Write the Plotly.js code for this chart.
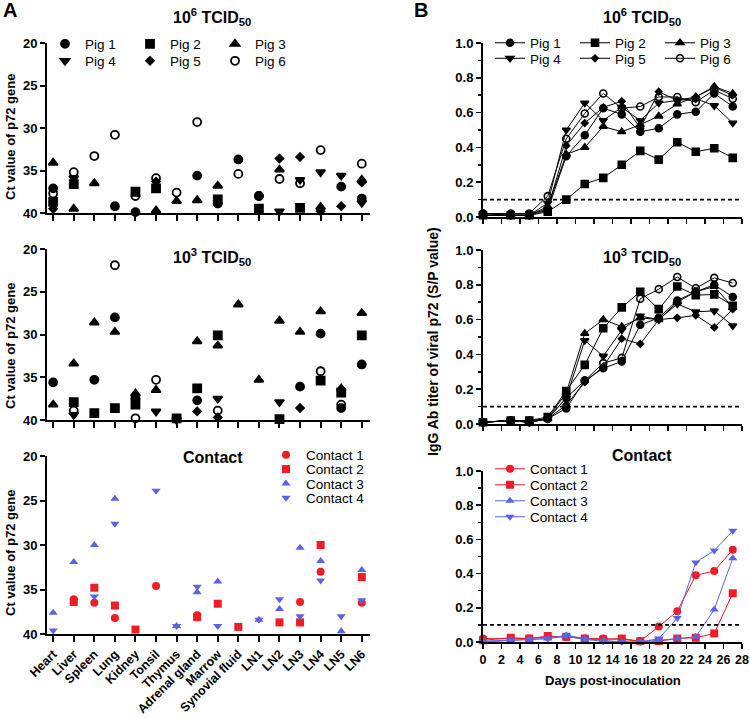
<!DOCTYPE html>
<html>
<head>
<meta charset="utf-8">
<script src="https://cdn.plot.ly/plotly-3.0.1.min.js"></script>
<style>
  body { margin: 0; background: #fff; }
  #plot { width: 750px; height: 718px; }
</style>
</head>
<body>
<div id="plot"></div>
<script>
// ---- data ----
var organs = ["Heart", "Liver", "Spleen", "Lung", "Kidney", "Tonsil", "Thymus", "Adrenal gland",
  "Marrow", "Synovial fluid", "LN1", "LN2", "LN3", "LN4", "LN5", "LN6"];

var pigNames = ["Pig 1", "Pig 2", "Pig 3", "Pig 4", "Pig 5", "Pig 6"];
var contactNames = ["Contact 1", "Contact 2", "Contact 3", "Contact 4"];

// Ct values, 10^6 TCID50 group
var ctHigh1 = [37.1, null, null, 39.2, 39.9, null, null, 35.6, 38.9, 33.7, 38.0, null, null, null, 36.9, 38.3];
var ctHigh2 = [38.7, 36.6, null, null, 37.5, 37.1, null, null, 38.4, null, 39.5, null, 39.4, null, null, null];
var ctHigh3 = [34.1, 39.5, 36.5, null, null, 39.7, 38.6, 38.5, 36.8, null, null, 34.9, null, 39.3, null, 36.1];
var ctHigh4 = [null, 35.9, null, null, null, null, null, null, null, null, null, 39.8, 36.1, 35.2, 35.6, 38.8];
var ctHigh5 = [39.5, null, null, null, null, 36.3, null, null, null, null, null, 33.6, 33.4, 39.8, 39.2, 36.4];
var ctHigh6 = [37.7, 35.2, 33.3, 30.8, 38.0, 35.9, 37.6, 29.3, null, 35.4, 38.0, 36.0, 36.5, 32.6, null, 34.2];

// Ct values, 10^3 TCID50 group
var ctLow1 = [35.6, null, 35.3, 28.0, null, null, null, 37.7, null, null, null, null, 36.1, 29.9, 38.6, 33.5];
var ctLow2 = [null, 37.9, 39.2, 38.6, 38.2, null, 39.8, 36.3, 30.1, null, null, 39.9, null, 35.4, 36.8, 30.1];
var ctLow3 = [38.2, 33.4, 28.6, 29.7, 36.9, 36.5, null, 30.8, 31.3, 26.5, 35.3, 28.4, 29.7, 27.3, 36.3, 27.5];
var ctLow4 = [null, 39.4, null, null, 37.7, 39.0, 40.0, null, 37.5, null, null, 37.9, null, null, null, null];
var ctLow5 = [null, null, null, null, 37.3, null, null, 39.0, 39.7, null, null, null, 38.6, null, null, null];
var ctLow6 = [null, 38.9, null, 21.9, 39.8, 35.3, null, null, 38.9, null, null, null, null, 34.3, 38.2, null];

// Ct values, contact pigs
var ctCon1 = [null, 36.1, 36.5, 38.2, null, 34.6, null, 37.9, null, null, null, null, 36.4, 33.0, null, 36.5];
var ctCon2 = [null, 36.4, 34.8, 36.8, 39.5, null, null, 38.1, 36.6, 39.2, null, 38.7, 38.7, 30.0, null, 33.6];
var ctCon3 = [37.6, 31.9, 30.0, 24.8, null, null, 39.1, 35.3, 34.1, null, 38.4, 37.2, 30.3, 31.8, 39.7, 32.8];
var ctCon4 = [39.6, null, 35.8, 27.6, null, 23.9, 39.1, 34.7, 39.1, null, 38.4, 36.1, 38.0, 34.0, 38.0, 36.2];

// IgG S/P values
var days = [0, 3, 5, 7, 9, 11, 13, 15, 17, 19, 21, 23, 25, 27];

var spHigh1 = [0.02, 0.01, 0.01, 0.04, 0.35, 0.47, 0.625, 0.59, 0.49, 0.51, 0.59, 0.605, 0.71, 0.635];
var spHigh2 = [0.01, 0.01, 0.01, 0.03, 0.10, 0.19, 0.225, 0.30, 0.38, 0.33, 0.43, 0.375, 0.395, 0.34];
var spHigh3 = [0.01, 0.01, 0.01, 0.06, 0.36, 0.40, 0.52, 0.49, 0.53, 0.58, 0.65, 0.69, 0.75, 0.71];
var spHigh4 = [0.01, 0.01, 0.01, 0.08, 0.50, 0.655, 0.555, 0.63, 0.555, 0.655, 0.67, 0.68, 0.64, 0.54];
var spHigh5 = [0.01, 0.01, 0.01, 0.05, 0.41, 0.54, 0.63, 0.665, 0.51, 0.72, 0.67, 0.69, 0.745, 0.70];
var spHigh6 = [0.02, 0.02, 0.02, 0.12, 0.45, 0.595, 0.71, 0.625, 0.635, 0.69, 0.69, 0.66, 0.73, 0.68];

var spLow1 = [0.01, 0.02, 0.01, 0.03, 0.09, 0.25, 0.32, 0.36, 0.57, 0.61, 0.71, 0.76, 0.80, 0.73];
var spLow2 = [0.01, 0.02, 0.02, 0.04, 0.19, 0.34, 0.55, 0.67, 0.76, 0.66, 0.79, 0.74, 0.745, 0.68];
var spLow3 = [0.01, 0.02, 0.01, 0.03, 0.18, 0.52, 0.60, 0.56, 0.61, 0.60, 0.70, 0.76, 0.79, 0.67];
var spLow4 = [0.01, 0.02, 0.01, 0.03, 0.15, 0.48, 0.39, 0.54, 0.62, 0.60, 0.69, 0.645, 0.65, 0.565];
var spLow5 = [0.01, 0.02, 0.01, 0.03, 0.11, 0.24, 0.33, 0.49, 0.46, 0.60, 0.61, 0.625, 0.555, 0.66];
var spLow6 = [0.01, 0.02, 0.02, 0.03, 0.15, 0.25, 0.35, 0.38, 0.72, 0.775, 0.845, 0.78, 0.84, 0.81];

var spCon1 = [0.02, 0.02, 0.02, 0.03, 0.03, 0.02, 0.02, 0.015, 0.005, 0.09, 0.18, 0.39, 0.415, 0.54];
var spCon2 = [0.01, 0.025, 0.02, 0.035, 0.03, 0.02, 0.015, 0.02, 0.005, 0.005, 0.02, 0.025, 0.05, 0.285];
var spCon3 = [0.005, 0.01, 0.015, 0.02, 0.04, 0.02, 0.01, 0.0, 0.0, 0.01, 0.02, 0.03, 0.19, 0.49];
var spCon4 = [0.0, 0.01, 0.015, 0.02, 0.035, 0.015, 0.005, 0.0, 0.0, 0.02, 0.14, 0.465, 0.535, 0.65];

var cutoff = 0.1;

// ---- styling ----
var W = 750, H = 718;
var FONT = "Liberation Sans, Arial, sans-serif";
var RED = "#ee1c24", BLUE = "#5b62e4";

var pigSymbols = ["circle", "square", "triangle-up", "triangle-down", "diamond", "circle-open"];
var pigSizes = [8, 8, 8, 8, 6, 8];
var conSymbols = ["circle", "square", "triangle-up", "triangle-down"];
var conColors = [RED, RED, BLUE, BLUE];

var ctHigh = [ctHigh1, ctHigh2, ctHigh3, ctHigh4, ctHigh5, ctHigh6];
var ctLow = [ctLow1, ctLow2, ctLow3, ctLow4, ctLow5, ctLow6];
var ctCon = [ctCon1, ctCon2, ctCon3, ctCon4];
var spHigh = [spHigh1, spHigh2, spHigh3, spHigh4, spHigh5, spHigh6];
var spLow = [spLow1, spLow2, spLow3, spLow4, spLow5, spLow6];
var spCon = [spCon1, spCon2, spCon3, spCon4];

var data = [];
var layout = {
  width: W, height: H,
  margin: {l: 0, r: 0, t: 0, b: 0},
  paper_bgcolor: "white", plot_bgcolor: "white",
  font: {family: FONT, color: "black", size: 12},
  annotations: [], shapes: []
};

// one small legend per entry so the grid matches the figure
var legendCount = 0;
function addLegend(symX, rowY) {
  legendCount++;
  var id = legendCount === 1 ? "legend" : "legend" + legendCount;
  layout[id] = {
    x: (symX - 20) / W, xanchor: "left",
    y: 1 - rowY / H, yanchor: "middle",
    bgcolor: "rgba(0,0,0,0)", borderwidth: 0,
    itemwidth: 30, font: {size: 13.5, family: FONT},
    itemclick: false
  };
  return id;
}

// left column: Ct values
var leftPanels = [
  {xa: "x", ya: "y", sets: ctHigh, names: pigNames},
  {xa: "x2", ya: "y2", sets: ctLow, names: pigNames},
  {xa: "x3", ya: "y3", sets: ctCon, names: contactNames}
];
leftPanels.forEach(function(p, k) {
  p.sets.forEach(function(vals, i) {
    var isCon = (k === 2);
    var t = {
      x: organs, y: vals, type: "scatter", mode: "markers",
      xaxis: p.xa, yaxis: p.ya, name: p.names[i], cliponaxis: false,
      marker: isCon ?
        {symbol: conSymbols[i], size: 8, color: conColors[i]} :
        {symbol: pigSymbols[i], size: pigSizes[i], color: "black", line: {width: 1.8, color: "black"}},
      showlegend: false
    };
    if (k === 0) {
      t.showlegend = true;
      t.legend = addLegend(65 + 85 * (i % 3), 44 + 17 * Math.floor(i / 3));
    }
    if (k === 2) {
      t.showlegend = true;
      t.legend = addLegend(286, 455 + 14.3 * i);
    }
    data.push(t);
  });
});

// right column: IgG S/P
var rightPanels = [
  {xa: "x4", ya: "y4", sets: spHigh, names: pigNames},
  {xa: "x5", ya: "y5", sets: spLow, names: pigNames},
  {xa: "x6", ya: "y6", sets: spCon, names: contactNames}
];
rightPanels.forEach(function(p, k) {
  p.sets.forEach(function(vals, i) {
    var isCon = (k === 2);
    var col = isCon ? conColors[i] : "black";
    var t = {
      x: days, y: vals, type: "scatter", mode: "lines+markers",
      xaxis: p.xa, yaxis: p.ya, name: p.names[i], cliponaxis: false,
      line: {color: col, width: 1},
      marker: isCon ?
        {symbol: conSymbols[i], size: 8, color: col} :
        {symbol: pigSymbols[i], size: pigSizes[i] - 1, color: "black", line: {width: 1.6, color: "black"}},
      showlegend: false
    };
    if (k === 0) {
      t.showlegend = true;
      t.legend = addLegend(510 + 85 * (i % 3), 43 + 15.5 * Math.floor(i / 3));
    }
    if (k === 2) {
      t.showlegend = true;
      t.legend = addLegend(510, 469 + 16 * i);
    }
    data.push(t);
  });
  layout.shapes.push({
    type: "line", xref: p.xa + " domain", x0: 0, x1: 1,
    yref: p.ya, y0: cutoff, y1: cutoff,
    line: {color: "black", width: 1.6, dash: "4px,3px"}
  });
});

// axes
function dom(a, b) { return [a / W, b / W]; }
function vdom(top, bottom) { return [1 - bottom / H, 1 - top / H]; }

var baseAx = {
  showgrid: false, zeroline: false, showline: true, linecolor: "black", linewidth: 2,
  ticks: "outside", tickwidth: 2, tickcolor: "black",
  tickfont: {family: FONT, size: 13, weight: "bold"}
};
function ax(extra) { return Object.assign({}, baseAx, extra); }

var leftY = [[43, 213], [249, 420], [456, 634]];
var rightY = [[43, 217], [250, 424], [471, 642]];
["", "2", "3"].forEach(function(s, k) {
  layout["xaxis" + s] = ax({
    domain: dom(47, 370), anchor: "y" + s, type: "category",
    categoryorder: "array", categoryarray: organs,
    range: [-0.3, 15.4], ticklen: 6, showticklabels: k === 2,
    tickangle: -45, tickfont: {family: FONT, size: 12.5, weight: "bold"}
  });
  layout["yaxis" + s] = ax({
    domain: vdom(leftY[k][0], leftY[k][1]), anchor: "x" + s,
    range: [40, 20], tickvals: [20, 25, 30, 35, 40], ticklen: 5
  });
});
["4", "5", "6"].forEach(function(s, k) {
  layout["xaxis" + s] = ax({
    domain: dom(483, 742), anchor: "y" + s, range: [0, 28], dtick: 2,
    ticklen: 5, tickwidth: 1.5, showticklabels: k === 2,
    tickfont: {family: FONT, size: 12.5, weight: "bold"}
  });
  layout["yaxis" + s] = ax({
    domain: vdom(rightY[k][0], rightY[k][1]), anchor: "x" + s,
    range: [0, 1], dtick: 0.2, tickformat: ".1f", ticklen: 5, tickwidth: 1.5,
    minor: {dtick: 0.1, ticks: "outside", ticklen: 3, tickwidth: 1.5, tickcolor: "black"}
  });
});

// titles and labels
function note(text, x, y, size, angle) {
  layout.annotations.push({
    text: text, x: x / W, y: 1 - y / H, xref: "paper", yref: "paper",
    xanchor: "center", yanchor: "middle", showarrow: false, textangle: angle || 0,
    font: {family: FONT, size: size, color: "black", weight: "bold"}
  });
}
note("A", 10, 10, 20);
note("B", 421, 10, 20);
note("10<sup>6</sup> TCID<sub>50</sub>", 212, 17, 16);
note("10<sup>3</sup> TCID<sub>50</sub>", 212, 257, 16);
note("Contact", 213, 457, 16);
note("10<sup>6</sup> TCID<sub>50</sub>", 642, 17, 16);
note("10<sup>3</sup> TCID<sub>50</sub>", 642, 257, 16);
note("Contact", 642, 456, 16);
note("Ct value of p72 gene", 10, 137, 13, -90);
note("Ct value of p72 gene", 10, 346, 13, -90);
note("Ct value of p72 gene", 10, 553, 13, -90);
note("IgG Ab titer of viral p72 (S/P value)", 433, 342, 14, -90);
note("Days post-inoculation", 613, 680, 13);

Plotly.newPlot("plot", data, layout, {staticPlot: true});
</script>
</body>
</html>
